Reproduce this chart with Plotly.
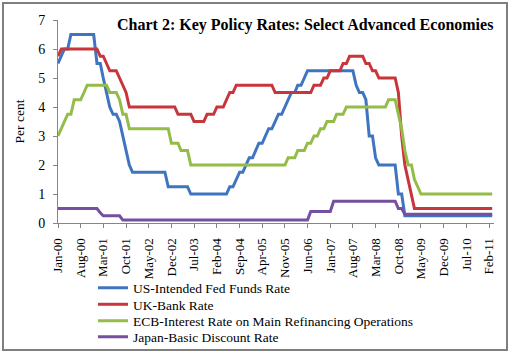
import pandas as pd
import plotly.graph_objects as go

# Monthly observations, Jan-2000 .. Mar-2011 (month-end policy rates, per cent)
months = pd.date_range("2000-01-01", periods=135, freq="MS")

us_fed = [
    5.5, 5.75, 6.0, 6.0, 6.5, 6.5, 6.5, 6.5, 6.5, 6.5, 6.5, 6.5,          # 2000
    5.5, 5.5, 5.0, 4.5, 4.0, 3.75, 3.75, 3.5, 3.0, 2.5, 2.0, 1.75,       # 2001
    1.75, 1.75, 1.75, 1.75, 1.75, 1.75, 1.75, 1.75, 1.75, 1.75, 1.25, 1.25,  # 2002
    1.25, 1.25, 1.25, 1.25, 1.25, 1.0, 1.0, 1.0, 1.0, 1.0, 1.0, 1.0,     # 2003
    1.0, 1.0, 1.0, 1.0, 1.0, 1.25, 1.25, 1.5, 1.75, 1.75, 2.0, 2.25,     # 2004
    2.25, 2.5, 2.75, 2.75, 3.0, 3.25, 3.25, 3.5, 3.75, 3.75, 4.0, 4.25,  # 2005
    4.5, 4.5, 4.75, 4.75, 5.0, 5.25, 5.25, 5.25, 5.25, 5.25, 5.25, 5.25, # 2006
    5.25, 5.25, 5.25, 5.25, 5.25, 5.25, 5.25, 5.25, 4.75, 4.5, 4.5, 4.25,  # 2007
    3.0, 3.0, 2.25, 2.0, 2.0, 2.0, 2.0, 2.0, 2.0, 1.0, 1.0, 0.25,        # 2008
    0.25, 0.25, 0.25, 0.25, 0.25, 0.25, 0.25, 0.25, 0.25, 0.25, 0.25, 0.25,  # 2009
    0.25, 0.25, 0.25, 0.25, 0.25, 0.25, 0.25, 0.25, 0.25, 0.25, 0.25, 0.25,  # 2010
    0.25, 0.25, 0.25,                                                    # 2011
]

uk_bank = [
    5.75, 6.0, 6.0, 6.0, 6.0, 6.0, 6.0, 6.0, 6.0, 6.0, 6.0, 6.0,         # 2000
    6.0, 5.75, 5.75, 5.5, 5.25, 5.25, 5.25, 5.0, 4.75, 4.5, 4.0, 4.0,    # 2001
    4.0, 4.0, 4.0, 4.0, 4.0, 4.0, 4.0, 4.0, 4.0, 4.0, 4.0, 4.0,          # 2002
    4.0, 3.75, 3.75, 3.75, 3.75, 3.75, 3.5, 3.5, 3.5, 3.5, 3.75, 3.75,   # 2003
    3.75, 4.0, 4.0, 4.0, 4.25, 4.5, 4.5, 4.75, 4.75, 4.75, 4.75, 4.75,   # 2004
    4.75, 4.75, 4.75, 4.75, 4.75, 4.75, 4.75, 4.5, 4.5, 4.5, 4.5, 4.5,   # 2005
    4.5, 4.5, 4.5, 4.5, 4.5, 4.5, 4.5, 4.75, 4.75, 4.75, 5.0, 5.0,       # 2006
    5.25, 5.25, 5.25, 5.25, 5.5, 5.5, 5.75, 5.75, 5.75, 5.75, 5.75, 5.5, # 2007
    5.5, 5.25, 5.25, 5.0, 5.0, 5.0, 5.0, 5.0, 5.0, 4.5, 3.0, 2.0,        # 2008
    1.5, 1.0, 0.5, 0.5, 0.5, 0.5, 0.5, 0.5, 0.5, 0.5, 0.5, 0.5,          # 2009
    0.5, 0.5, 0.5, 0.5, 0.5, 0.5, 0.5, 0.5, 0.5, 0.5, 0.5, 0.5,          # 2010
    0.5, 0.5, 0.5,                                                       # 2011
]

ecb_mro = [
    3.0, 3.25, 3.5, 3.75, 3.75, 4.25, 4.25, 4.25, 4.5, 4.75, 4.75, 4.75, # 2000
    4.75, 4.75, 4.75, 4.75, 4.5, 4.5, 4.5, 4.25, 3.75, 3.75, 3.25, 3.25, # 2001
    3.25, 3.25, 3.25, 3.25, 3.25, 3.25, 3.25, 3.25, 3.25, 3.25, 3.25, 2.75,  # 2002
    2.75, 2.75, 2.5, 2.5, 2.5, 2.0, 2.0, 2.0, 2.0, 2.0, 2.0, 2.0,        # 2003
    2.0, 2.0, 2.0, 2.0, 2.0, 2.0, 2.0, 2.0, 2.0, 2.0, 2.0, 2.0,          # 2004
    2.0, 2.0, 2.0, 2.0, 2.0, 2.0, 2.0, 2.0, 2.0, 2.0, 2.0, 2.25,         # 2005
    2.25, 2.25, 2.5, 2.5, 2.5, 2.75, 2.75, 3.0, 3.0, 3.25, 3.25, 3.5,    # 2006
    3.5, 3.5, 3.75, 3.75, 3.75, 4.0, 4.0, 4.0, 4.0, 4.0, 4.0, 4.0,       # 2007
    4.0, 4.0, 4.0, 4.0, 4.0, 4.0, 4.25, 4.25, 4.25, 3.75, 3.25, 2.5,     # 2008
    2.0, 2.0, 1.5, 1.25, 1.0, 1.0, 1.0, 1.0, 1.0, 1.0, 1.0, 1.0,         # 2009
    1.0, 1.0, 1.0, 1.0, 1.0, 1.0, 1.0, 1.0, 1.0, 1.0, 1.0, 1.0,          # 2010
    1.0, 1.0, 1.0,                                                       # 2011
]

japan_discount = [
    0.5, 0.5, 0.5, 0.5, 0.5, 0.5, 0.5, 0.5, 0.5, 0.5, 0.5, 0.5,          # 2000
    0.5, 0.35, 0.25, 0.25, 0.25, 0.25, 0.25, 0.25, 0.1, 0.1, 0.1, 0.1,   # 2001
    0.1, 0.1, 0.1, 0.1, 0.1, 0.1, 0.1, 0.1, 0.1, 0.1, 0.1, 0.1,          # 2002
    0.1, 0.1, 0.1, 0.1, 0.1, 0.1, 0.1, 0.1, 0.1, 0.1, 0.1, 0.1,          # 2003
    0.1, 0.1, 0.1, 0.1, 0.1, 0.1, 0.1, 0.1, 0.1, 0.1, 0.1, 0.1,          # 2004
    0.1, 0.1, 0.1, 0.1, 0.1, 0.1, 0.1, 0.1, 0.1, 0.1, 0.1, 0.1,          # 2005
    0.1, 0.1, 0.1, 0.1, 0.1, 0.1, 0.4, 0.4, 0.4, 0.4, 0.4, 0.4,          # 2006
    0.4, 0.75, 0.75, 0.75, 0.75, 0.75, 0.75, 0.75, 0.75, 0.75, 0.75, 0.75,  # 2007
    0.75, 0.75, 0.75, 0.75, 0.75, 0.75, 0.75, 0.75, 0.75, 0.5, 0.5, 0.3,    # 2008
    0.3, 0.3, 0.3, 0.3, 0.3, 0.3, 0.3, 0.3, 0.3, 0.3, 0.3, 0.3,          # 2009
    0.3, 0.3, 0.3, 0.3, 0.3, 0.3, 0.3, 0.3, 0.3, 0.3, 0.3, 0.3,          # 2010
    0.3, 0.3, 0.3,                                                       # 2011
]

series_names = [
    "US-Intended Fed Funds Rate",
    "UK-Bank Rate",
    "ECB-Interest Rate on Main Refinancing Operations",
    "Japan-Basic Discount Rate",
]

tick_dates = [
    "2000-01-01", "2000-08-01", "2001-03-01", "2001-10-01", "2002-05-01",
    "2002-12-01", "2003-07-01", "2004-02-01", "2004-09-01", "2005-04-01",
    "2005-11-01", "2006-06-01", "2007-01-01", "2007-08-01", "2008-03-01",
    "2008-10-01", "2009-05-01", "2009-12-01", "2010-07-01", "2011-02-01",
]
tick_labels = [
    "Jan-00", "Aug-00", "Mar-01", "Oct-01", "May-02", "Dec-02", "Jul-03",
    "Feb-04", "Sep-04", "Apr-05", "Nov-05", "Jun-06", "Jan-07", "Aug-07",
    "Mar-08", "Oct-08", "May-09", "Dec-09", "Jul-10", "Feb-11",
]

colors = ["#3F75C0", "#C8353A", "#93BC48", "#7550A0"]
FONT = "Liberation Serif"

W, H = 515, 354
ML, MR, MT, MB = 58, 21, 20, 131

pw = W - ML - MR
ph = H - MT - MB

def px_x(X):
    return (X - ML) / pw

def px_y(Y):
    return (H - MB - Y) / ph

legend_ids = ["legend", "legend2", "legend3", "legend4"]
legend_rows_y = [288, 304.5, 321, 337]

fig = go.Figure()
for name, vals, col, lid in zip(series_names, [us_fed, uk_bank, ecb_mro, japan_discount], colors, legend_ids):
    fig.add_trace(go.Scatter(
        x=months, y=vals, name=name, mode="lines",
        line=dict(color=col, width=3), legend=lid,
    ))

legend_layout = {}
for lid, ly in zip(legend_ids, legend_rows_y):
    legend_layout[lid] = dict(
        x=px_x(93), y=px_y(ly), xanchor="left", yanchor="middle",
        font=dict(family=FONT, size=13.5, color="black"),
        bgcolor="rgba(0,0,0,0)", borderwidth=0,
        itemwidth=30, tracegroupgap=0,
    )

fig.update_layout(
    width=W, height=H,
    margin=dict(l=ML, r=MR, t=MT, b=MB, pad=0, autoexpand=False),
    paper_bgcolor="white", plot_bgcolor="white",
    font=dict(family=FONT, size=13, color="black"),
    showlegend=True,
    xaxis=dict(
        type="date",
        range=["2000-01-01", "2011-03-18"],
        tickmode="array", tickvals=tick_dates, ticktext=tick_labels,
        tickangle=-90,
        ticks="outside", ticklen=4, tickcolor="#868686", tickwidth=1,
        showline=True, linecolor="#868686", linewidth=1,
        showgrid=False, zeroline=False,
        ticklabelstandoff=5,
        tickfont=dict(family=FONT, size=13, color="black"),
    ),
    yaxis=dict(
        range=[0, 7], dtick=1, tick0=0,
        ticks="outside", ticklen=4, tickcolor="#868686", tickwidth=1,
        showline=True, linecolor="#868686", linewidth=1,
        showgrid=False, zeroline=False,
        ticklabelstandoff=5,
        tickfont=dict(family=FONT, size=14, color="black"),
        title=dict(text="Per cent", font=dict(family=FONT, size=13.5, color="black"), standoff=10),
    ),
    annotations=[
        dict(
            text="<b>Chart 2: Key Policy Rates: Select Advanced Economies</b>",
            xref="paper", yref="paper", x=px_x(305), y=px_y(25),
            xanchor="center", yanchor="middle", showarrow=False,
            font=dict(family=FONT, size=16, color="black"),
        )
    ],
    shapes=[
        dict(
            type="rect", xref="paper", yref="paper",
            x0=px_x(3), x1=px_x(507), y0=px_y(350), y1=px_y(3),
            line=dict(color="#7F7F7F", width=2), fillcolor="rgba(0,0,0,0)",
            layer="above",
        )
    ],
    **legend_layout,
)

fig.write_html("out.html")
